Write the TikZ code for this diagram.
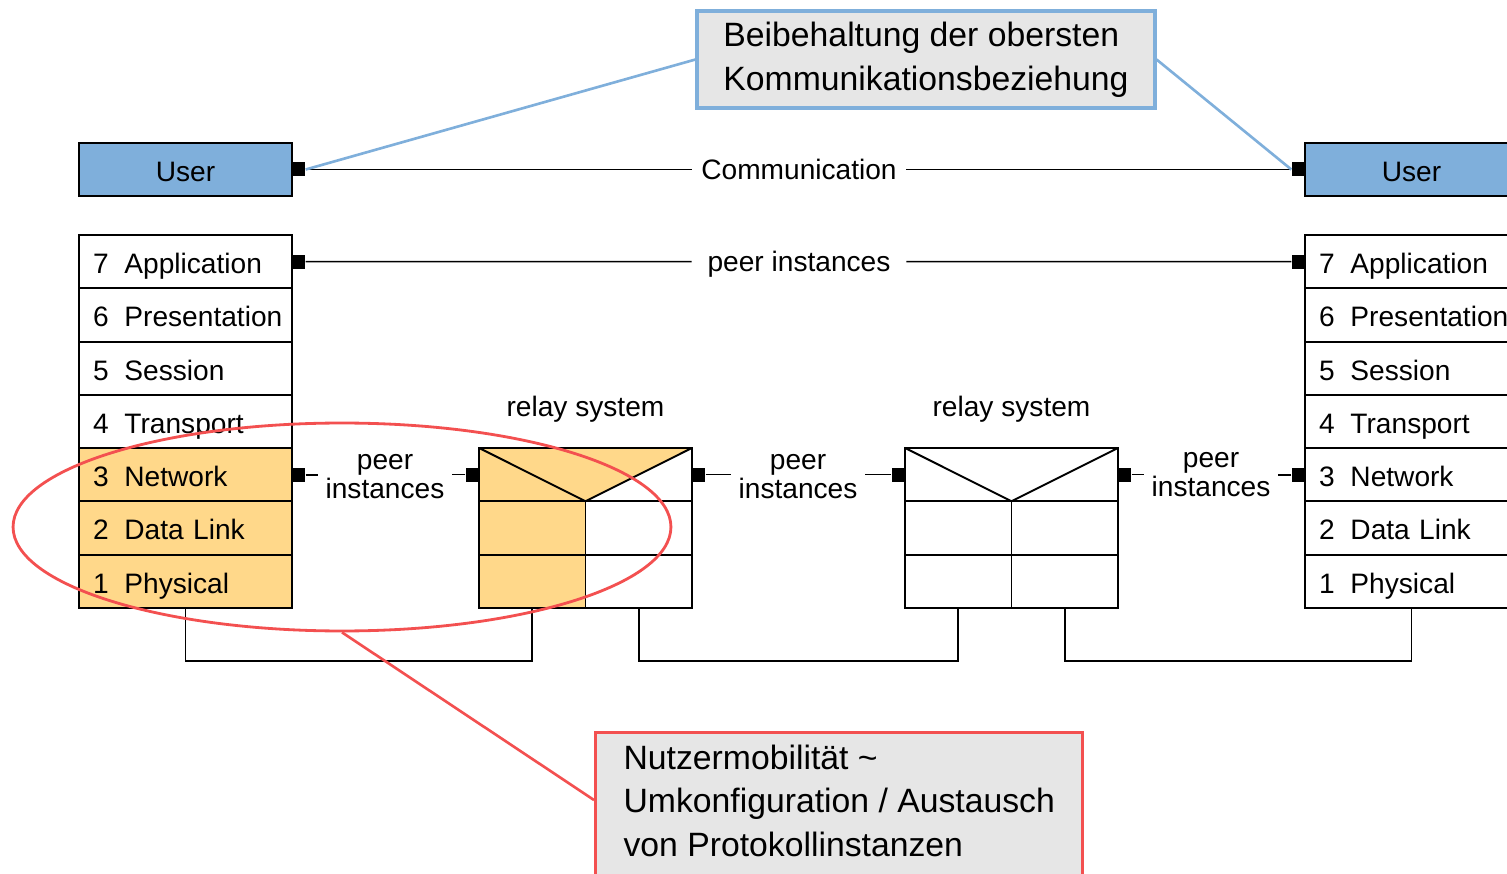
\documentclass[tikz,border=0pt]{standalone}
\usepackage{fontspec}
\setmainfont{Liberation Sans}
\usetikzlibrary{shapes.geometric,calc,backgrounds}
\definecolor{userblue}{RGB}{127,175,219}
\definecolor{layerfill}{RGB}{255,216,138}
\definecolor{notegray}{RGB}{230,230,230}
\definecolor{notered}{RGB}{243,80,80}

\tikzset{
  box/.style={draw=black,line width=1.1pt,minimum width=4.26cm,minimum height=1.066cm,inner sep=0pt,outer sep=0pt,text height=13.5pt,text depth=0pt},
  layer/.style={box,text width=3.70cm,inner xsep=0.28cm,align=left},
  cell/.style={box,minimum width=2.13cm},
  port/.style={fill=black,inner sep=0pt,minimum width=0.26cm,minimum height=0.28cm},
  wire/.style={line width=0.9pt},
  toplabel/.style={minimum width=4.28cm,text height=11.8pt,text depth=0pt},
  note/.style={fill=notegray,line width=1.8pt,align=left,font=\fontsize{19.2}{25}\selectfont},
  focusring/.style={ellipse,draw=notered,line width=1.6pt,minimum width=13.16cm,minimum height=4.16cm}
}

\begin{document}
\begin{tikzpicture}[x=0.02cm,y=-0.02cm,font=\fontsize{16}{16}\selectfont]
    \clip (0,0) rectangle (1507,874);

    % Users on both ends
    \node[box,fill=userblue] (U1) at (185.5,169.5) {User};
    \node[box,fill=userblue] (U2) at (1411.5,169.5) {User};
    \node[port,anchor=west] (pU1) at (U1.east) {};
    \node[port,anchor=east] (pU2) at (U2.west) {};
    \node[toplabel] (comm) at (799,169.5) {Communication};
    \draw[wire] (pU1) -- (comm) -- (pU2);

    % End systems (7 layers each)
    \foreach \n/\name/\col in {7/Application/white,6/Presentation/white,5/Session/white,4/Transport/white,3/Network/layerfill,2/Data Link/layerfill,1/Physical/layerfill}{
      \pgfmathsetmacro{\y}{235+(7-\n)*53.29+26.64}
      \node[layer,fill=\col] (L\n) at (185.5,\y) {\mbox{\n\hspace{9pt}\name}};
      \node[layer,fill=white] (R\n) at (1411.5,\y) {\mbox{\n\hspace{9pt}\name}};
    }
    \node[port,anchor=west] (pL7) at (L7.east) {};
    \node[port,anchor=east] (pR7) at (R7.west) {};
    \node[toplabel] (peertop) at (799,261.6) {peer instances};
    \draw[wire] (pL7) -- (peertop) -- (pR7);

    % Relay systems
    \foreach \i/\x/\col in {1/585.5/layerfill,2/1011.5/white}{
      \node[box] (T\i) at (\x,474.6) {};
      \node[cell,fill=\col,anchor=north east] (A\i) at (T\i.south) {};
      \node[cell,fill=white,anchor=north west] (B\i) at (T\i.south) {};
      \node[cell,fill=\col,anchor=north] (C\i) at (A\i.south) {};
      \node[cell,fill=white,anchor=north] (D\i) at (B\i.south) {};
      \draw[line width=1.1pt] (T\i.north west) -- (T\i.south) -- (T\i.north east);
      \node (rs\i) at (\x,409.5) {relay system};
    }
    \begin{scope}[on background layer]
      \fill[layerfill] (T1.north west) -- (T1.north east) -- (T1.south) -- (T1.south west) -- cycle;
    \end{scope}

    % Ports on layer 3
    \node[port,anchor=west] (pL3) at (L3.east) {};
    \node[port,anchor=east] (pT1w) at (T1.west) {};
    \node[port,anchor=west] (pT1e) at (T1.east) {};
    \node[port,anchor=east] (pT2w) at (T2.west) {};
    \node[port,anchor=west] (pT2e) at (T2.east) {};
    \node[port,anchor=east] (pR3) at (R3.west) {};
    \foreach \a/\b/\x/\y in {pL3/pT1w/385/476.6,pT1e/pT2w/798/476.6,pT2e/pR3/1211/474.6}{
      \node[align=center,inner xsep=0.14cm] (pi\x) at (\x,\y) {peer\\instances};
      \draw[wire] (\a) -- (\a -| pi\x.west);
      \draw[wire] (\b) -- (\b -| pi\x.east);
    }

    % Physical links
    \draw[wire] (L1.south) -- ++(0,53) -| (C1.south);
    \draw[wire] (D1.south) -- ++(0,53) -| (C2.south);
    \draw[wire] (D2.south) -- ++(0,53) -| (R1.south);

    % Callouts
    \node[note,draw=userblue,minimum width=9.16cm,minimum height=1.94cm,inner xsep=0.5cm] (note1) at (926,59.5) {Beibehaltung der obersten\\Kommunikationsbeziehung};
    \draw[line width=1.5pt,userblue] (note1.west) -- (pU1.east);
    \draw[line width=1.5pt,userblue] (note1.east) -- (pU2.west);

    \node[focusring] (ring) at (342,527) {};
    \node[note,draw=notered,anchor=north west,inner xsep=0.56cm,inner ysep=0.24cm] (note2) at (594,731) {Nutzermobilität \textasciitilde\\Umkonfiguration / Austausch\\von Protokollinstanzen\rule[-1.5cm]{0pt}{0pt}};
    \draw[notered,line width=1.5pt] (ring.south) -- ($(note2.north west)+(0,69)$);
\end{tikzpicture}
\end{document}
